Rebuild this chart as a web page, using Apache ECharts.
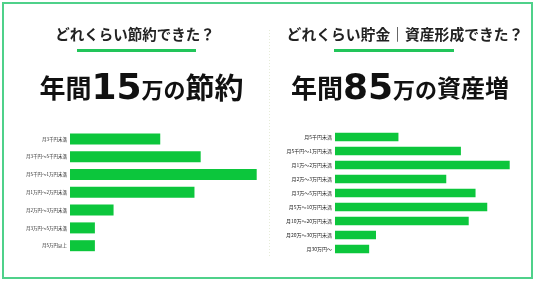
<!DOCTYPE html>
<html><head><meta charset="utf-8">
<script src="https://cdn.jsdelivr.net/npm/echarts@6/dist/echarts.min.js"></script>
<style>html,body{margin:0;padding:0;background:#fff}#c{width:536px;height:282px}</style>
</head><body><div id="c"></div>
<script>
const leftQuestion = 'どれくらい節約できた？';
const rightQuestion = 'どれくらい貯金｜資産形成できた？';
const leftHeadline = ['年間', '15', '万の', '節約'];
const rightHeadline = ['年間', '85', '万の', '資産増'];
const leftCategories = ['月3千円未満','月3千円〜5千円未満','月5千円〜1万円未満','月1万円〜2万円未満','月2万円〜3万円未満','月3万円〜5万円未満','月5万円以上'];
const leftValues = [14.5, 21, 30, 20, 7, 4, 4];
const rightCategories = ['月5千円未満','月5千円〜1万円未満','月1万〜2万円未満','月2万〜3万円未満','月3万〜5万円未満','月5万〜10万円未満','月10万〜20万円未満','月20万〜30万円未満','月30万円〜'];
const rightValues = [6.5, 12.9, 17.9, 11.4, 14.4, 15.6, 13.7, 4.2, 3.5];

const FONT = '"Noto Sans CJK JP", sans-serif';
const NUMFONT = '"DejaVu Sans", sans-serif';
const GREEN = '#0cc63c';
const chart = echarts.init(document.getElementById('c'), null, {renderer: 'canvas'});

const measureCtx = document.createElement('canvas').getContext('2d');
function headline(parts, centerX, lastSize) {
  const specs = [
    {size: 26, family: FONT, dy: 0},
    {size: 36, family: NUMFONT, dy: 1.5},
    {size: 22, family: FONT, dy: 1.5},
    {size: lastSize, family: FONT, dy: 0}
  ];
  const widths = parts.map((t, i) => {
    measureCtx.font = 'bold ' + specs[i].size + 'px ' + specs[i].family;
    return measureCtx.measureText(t).width;
  });
  const total = widths.reduce((a, b) => a + b, 0);
  let x = centerX - total / 2;
  return parts.map((t, i) => {
    const el = {
      type: 'text', x: x, y: 88 + specs[i].dy,
      style: {text: t, align: 'left', verticalAlign: 'middle', fontSize: specs[i].size,
              fontWeight: 'bold', fontFamily: specs[i].family, fill: '#111'}
    };
    x += widths[i];
    return el;
  });
}

const option = {
  animation: false,
  backgroundColor: '#fff',
  graphic: [
    {type: 'rect', shape: {x: 3, y: 3, width: 529, height: 275}, style: {fill: 'none', stroke: '#4fd18a', lineWidth: 2}},
    {type: 'line', shape: {x1: 269.5, y1: 30, x2: 269.5, y2: 258}, style: {stroke: '#e6ecd8', lineWidth: 1, lineDash: [1, 2]}},
    {type: 'text', x: 135, y: 34, style: {text: leftQuestion, align: 'center', verticalAlign: 'middle', fontSize: 14.5, fontWeight: 'bold', fontFamily: FONT, fill: '#222'}},
    {type: 'text', x: 405, y: 34, style: {text: rightQuestion, align: 'center', verticalAlign: 'middle', fontSize: 14.8, fontWeight: 'bold', fontFamily: FONT, fill: '#222'}},
    {type: 'rect', shape: {x: 77, y: 49, width: 119, height: 3}, style: {fill: '#22c55a'}},
    {type: 'rect', shape: {x: 334, y: 49, width: 120, height: 3}, style: {fill: '#22c55a'}}
  ].concat(headline(leftHeadline, 141.5, 29), headline(rightHeadline, 400, 24)),
  grid: [
    {left: 70, top: 130, width: 186.7, height: 124.6},
    {left: 335, top: 130, width: 174.7, height: 126}
  ],
  xAxis: [
    {type: 'value', gridIndex: 0, min: 0, max: 30, show: false},
    {type: 'value', gridIndex: 1, min: 0, max: 17.9, show: false}
  ],
  yAxis: [
    {type: 'category', gridIndex: 0, data: leftCategories, inverse: true,
     axisLine: {show: false}, axisTick: {show: false},
     axisLabel: {fontSize: 4.5, color: '#222', margin: 3, fontFamily: FONT}},
    {type: 'category', gridIndex: 1, data: rightCategories, inverse: true,
     axisLine: {show: false}, axisTick: {show: false},
     axisLabel: {fontSize: 5, color: '#222', margin: 3, fontFamily: FONT}}
  ],
  series: [
    {type: 'bar', xAxisIndex: 0, yAxisIndex: 0, data: leftValues, barWidth: 11, itemStyle: {color: GREEN}},
    {type: 'bar', xAxisIndex: 1, yAxisIndex: 1, data: rightValues, barWidth: 8.5, itemStyle: {color: GREEN}}
  ]
};
chart.setOption(option);
</script>
</body></html>
